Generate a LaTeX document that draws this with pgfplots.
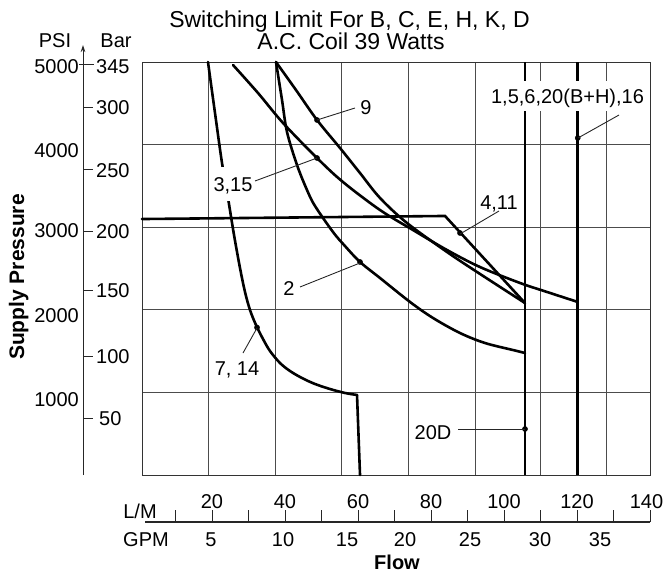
\documentclass[border=0pt]{standalone}
\usepackage{pgfplots}
\pgfplotsset{compat=1.18}
\usepackage{fontspec}
\setmainfont{Liberation Sans}
\usetikzlibrary{arrows.meta}
\begin{document}
\begin{tikzpicture}[
  curve/.style={black, line width=2.6pt, line join=round, line cap=round},
  lbl/.style={font=\fontsize{20}{24}\selectfont, inner sep=0pt, text height=14.3pt, text depth=0pt},
  leader/.style={black!85, line width=0.9pt},
]
\path[use as bounding box] (0pt,0pt) rectangle (664pt,-573pt);
\begin{axis}[
  at={(142pt,-475pt)}, anchor=south west,
  scale only axis, width=508pt, height=413pt,
  xmin=0.82, xmax=140, ymin=0, ymax=5000,
  axis line style={black!80, line width=1pt},
  xtick={18.9,37.5,55.6,73.7,92.05,109.9,128.2},
  ytick={1000,2000,3000,4000},
  xticklabels={}, yticklabels={},
  major tick length=0pt,
  grid=major,
  major grid style={black!70, line width=0.9pt},
  clip=false,
]
% vertical limits 1,5,6,20(B+H),16 and 20D
\addplot[black, line width=2.8pt] coordinates {(105.75,0) (105.75,5000)};
\addplot[black, line width=2.8pt] coordinates {(120.2,0) (120.2,5000)};
% 4,11
\addplot[curve, line join=miter] coordinates {(0.82,3099) (83.84,3136) (105.75,2082)};
% 3,15
\addplot[curve, smooth, tension=0.55] coordinates {(25.75,4964) (32.60,4625) (39.45,4262) (48.77,3838) (55.89,3547) (66.03,3208) (75.07,2966) (84.38,2724) (93.42,2518) (104.38,2325) (111.78,2216) (120.2,2095)};
% 9
\addplot[curve, smooth, tension=0.55] coordinates {(37.53,5000) (43.01,4661) (48.77,4298) (55.07,3959) (60.55,3656) (66.03,3354) (73.42,3051) (84.38,2700) (92.60,2458) (105.75,2082)};
% 2
\addplot[curve, smooth, tension=0.55] coordinates {(37.53,5000) (39.18,4540) (40.55,4153) (43.29,3753) (46.03,3450) (48.22,3257) (53.15,2942) (56.44,2772) (60.55,2579) (66.03,2385) (74.25,2095) (80.55,1901) (87.95,1719) (94.79,1598) (102.47,1513) (105.75,1477)};
% 7,14
\addplot[curve, smooth, tension=0.55] coordinates {(18.90,5000) (20.82,4383) (22.74,3777) (24.38,3354) (26.03,2906) (27.67,2506) (29.04,2216) (30.41,1998) (32.05,1816) (33.97,1647) (35.89,1501) (38.63,1356) (41.37,1259) (44.66,1174) (48.22,1102) (52.33,1041) (56.44,993) (59.73,969)};
\addplot[curve] coordinates {(59.73,969) (60.55,0)};
% label dots
\addplot[only marks, mark=*, mark size=2.6pt, black] coordinates {(32.33,1786) (48.77,3838) (48.77,4298) (60.55,2579) (87.95,2930) (120.2,4080) (105.75,557)};
\end{axis}
\begin{scope}[x=1pt,y=-1pt]
% curve labels
\node[lbl] at (366,107) {9};
\node[lbl, fill=white, inner xsep=1.5pt, inner ysep=10pt] at (233,184) {3,15};
\node[lbl] at (289,288) {2};
\node[lbl] at (237,368) {7, 14};
\node[lbl] at (499,202) {4,11};
\node[lbl, fill=white, inner xsep=1pt, inner ysep=7.5pt] at (567.5,96) {1,5,6,20(B+H),16};
\node[lbl] at (433,432) {20D};
% leaders
\draw[leader] (317,120) -- (355,108);
\draw[leader] (317,158) -- (255,181);
\draw[leader] (360,263) -- (300,287);
\draw[leader] (257,328) -- (243,353);
\draw[leader] (460,234) -- (499,211);
\draw[leader] (578,138) -- (619,115);
\draw[leader] (458,429) -- (525,429);
% title
\node[font=\fontsize{23}{27}\selectfont, inner sep=0pt, text height=16.5pt, text depth=0pt] at (349.5,19.5) {Switching Limit For B, C, E, H, K, D};
\node[font=\fontsize{23}{27}\selectfont, inner sep=0pt, text height=16.5pt, text depth=0pt] at (351,41.5) {A.C. Coil 39 Watts};
% pressure scale
\draw[black!85, line width=1pt, -{Stealth[length=7pt,width=4.5pt]}] (83,475) -- (83,45);
\draw[black!85, line width=1pt] (79,64) -- (94,64);
\foreach \yy in {107,169,231,290,356,418} {\draw[black!85, line width=1pt] (83,\yy) -- (93,\yy);}
\node[lbl, anchor=west] at (96,66) {345};
\node[lbl, anchor=west] at (96,107) {300};
\node[lbl, anchor=west] at (96,170) {250};
\node[lbl, anchor=west] at (96,231) {200};
\node[lbl, anchor=west] at (96,290) {150};
\node[lbl, anchor=west] at (96,356.5) {100};
\node[lbl, anchor=west] at (99,418.5) {50};
\node[lbl, anchor=east] at (79,66) {5000};
\node[lbl, anchor=east] at (79,150) {4000};
\node[lbl, anchor=east] at (79,230) {3000};
\node[lbl, anchor=east] at (79,315) {2000};
\node[lbl, anchor=east] at (79,399.5) {1000};
\node[lbl] at (55,40) {PSI};
\node[lbl] at (116,40) {Bar};
\node[font=\fontsize{21}{24}\selectfont\bfseries, inner sep=0pt, rotate=90, anchor=base] at (24,277) {Supply Pressure};
% flow scale
\draw[black!85, line width=1.2pt] (145,522) -- (650,522);
\foreach \k in {1,...,14} {\draw[black!85, line width=1pt] ({139+36.5*\k},522) -- ({139+36.5*\k},510);}
\foreach \k/\v in {2/20,4/40,6/60,8/80,10/100,12/120} {\node[lbl] at ({139+36.5*\k},501) {\v};}
\node[lbl] at (646.5,501) {140};
\node[lbl] at (140,511) {L/M};
\node[lbl] at (146,539) {GPM};
\foreach \xx/\v in {211/5,283/10,347/15,405/20,470/25,540/30,600/35} {\node[lbl] at (\xx,539) {\v};}
\node[lbl, font=\fontsize{20}{24}\selectfont\bfseries] at (397,562.5) {Flow};
\end{scope}
\end{tikzpicture}
\end{document}
